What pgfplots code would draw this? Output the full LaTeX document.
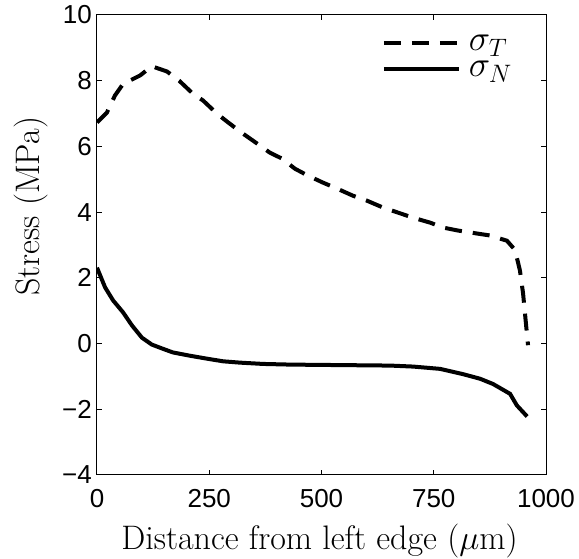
\RequirePackage{fix-cm}
\documentclass[border=0pt]{standalone}
\usepackage{fontspec}
\usepackage{pgfplots}
\pgfplotsset{compat=1.18}
\newfontfamily\helv{Liberation Sans}
\begin{document}
\begin{tikzpicture}
\begin{axis}[
  scale only axis, width=449pt, height=460pt,
  xmin=0, xmax=1000, ymin=-4, ymax=10,
  xtick={0,250,500,750,1000}, xticklabels={0,250,500,750,1000},
  ytick={-4,-2,0,2,4,6,8,10}, yticklabels={−4,−2,0,2,4,6,8,10},
  tick align=inside, major tick length=5pt,
  axis line style={line width=1pt},
  every tick/.style={black, line width=1pt},
  xticklabel style={font=\helv\fontsize{26}{30}\selectfont, anchor=base, inner sep=0pt, yshift=-33pt},
  yticklabel style={font=\helv\fontsize{26}{30}\selectfont, anchor=east, inner sep=0pt, xshift=-5pt},
  xlabel={Distance from left edge ($\mu$m)},
  ylabel={Stress (MPa)},
  label style={font=\fontsize{34}{40}\selectfont},
  xlabel style={at={(axis description cs:0.4955,-0.163)}, anchor=base, inner sep=0pt},
  ylabel style={at={(axis description cs:-0.127,0.584)}, anchor=base, inner sep=0pt},
  legend style={at={(axis description cs:1,1)}, anchor=north east, xshift=-34pt, yshift=-15pt,
    draw=none, fill=none, inner sep=0pt, row sep=0pt, column sep=8pt,
    font=\fontsize{36}{40}\selectfont,
    nodes={inner sep=0pt, text height=20.5pt, text depth=5.5pt}},
  legend image code/.code={\draw[#1] (0pt,0pt) -- (75pt,0pt);},
  legend cell align=left,
]
\addplot[black, line width=4pt, dash pattern=on 17pt off 11pt] coordinates {
(0,6.73) (22,7.03) (40,7.55) (58,7.9) (96,8.16) (122,8.44) (156,8.28) (183,8.0)
(214,7.6) (236,7.4) (267,7.0) (292,6.73) (325,6.39) (347,6.18) (385,5.81)
(412,5.63) (441,5.32) (470,5.11) (503,4.9) (534,4.72) (570,4.5) (601,4.35)
(637,4.14) (704,3.83) (742,3.68) (771,3.53) (804,3.44) (846,3.35) (875,3.29)
(913,3.13) (931,2.85) (942,2.22) (949,1.52) (953,0.94) (960,-0.05)
};
\addlegendentry{$\sigma_T$}
\addplot[black, line width=4pt] coordinates {
(0,2.31) (18,1.71) (36,1.31) (58,0.95) (78,0.55) (100,0.18) (122,-0.03)
(145,-0.15) (169,-0.27) (207,-0.37) (245,-0.46) (281,-0.54) (318,-0.58)
(370,-0.62) (430,-0.64) (503,-0.65) (579,-0.66) (653,-0.67) (704,-0.70)
(764,-0.77) (815,-0.93) (853,-1.07) (882,-1.23) (920,-1.53) (935,-1.88) (958,-2.22)
};
\addlegendentry{$\sigma_N$}
\end{axis}
\pgfresetboundingbox
\path (current axis.south west) +(-97pt,-84pt) (current axis.north east) +(33pt,15pt);
\end{tikzpicture}
\end{document}
